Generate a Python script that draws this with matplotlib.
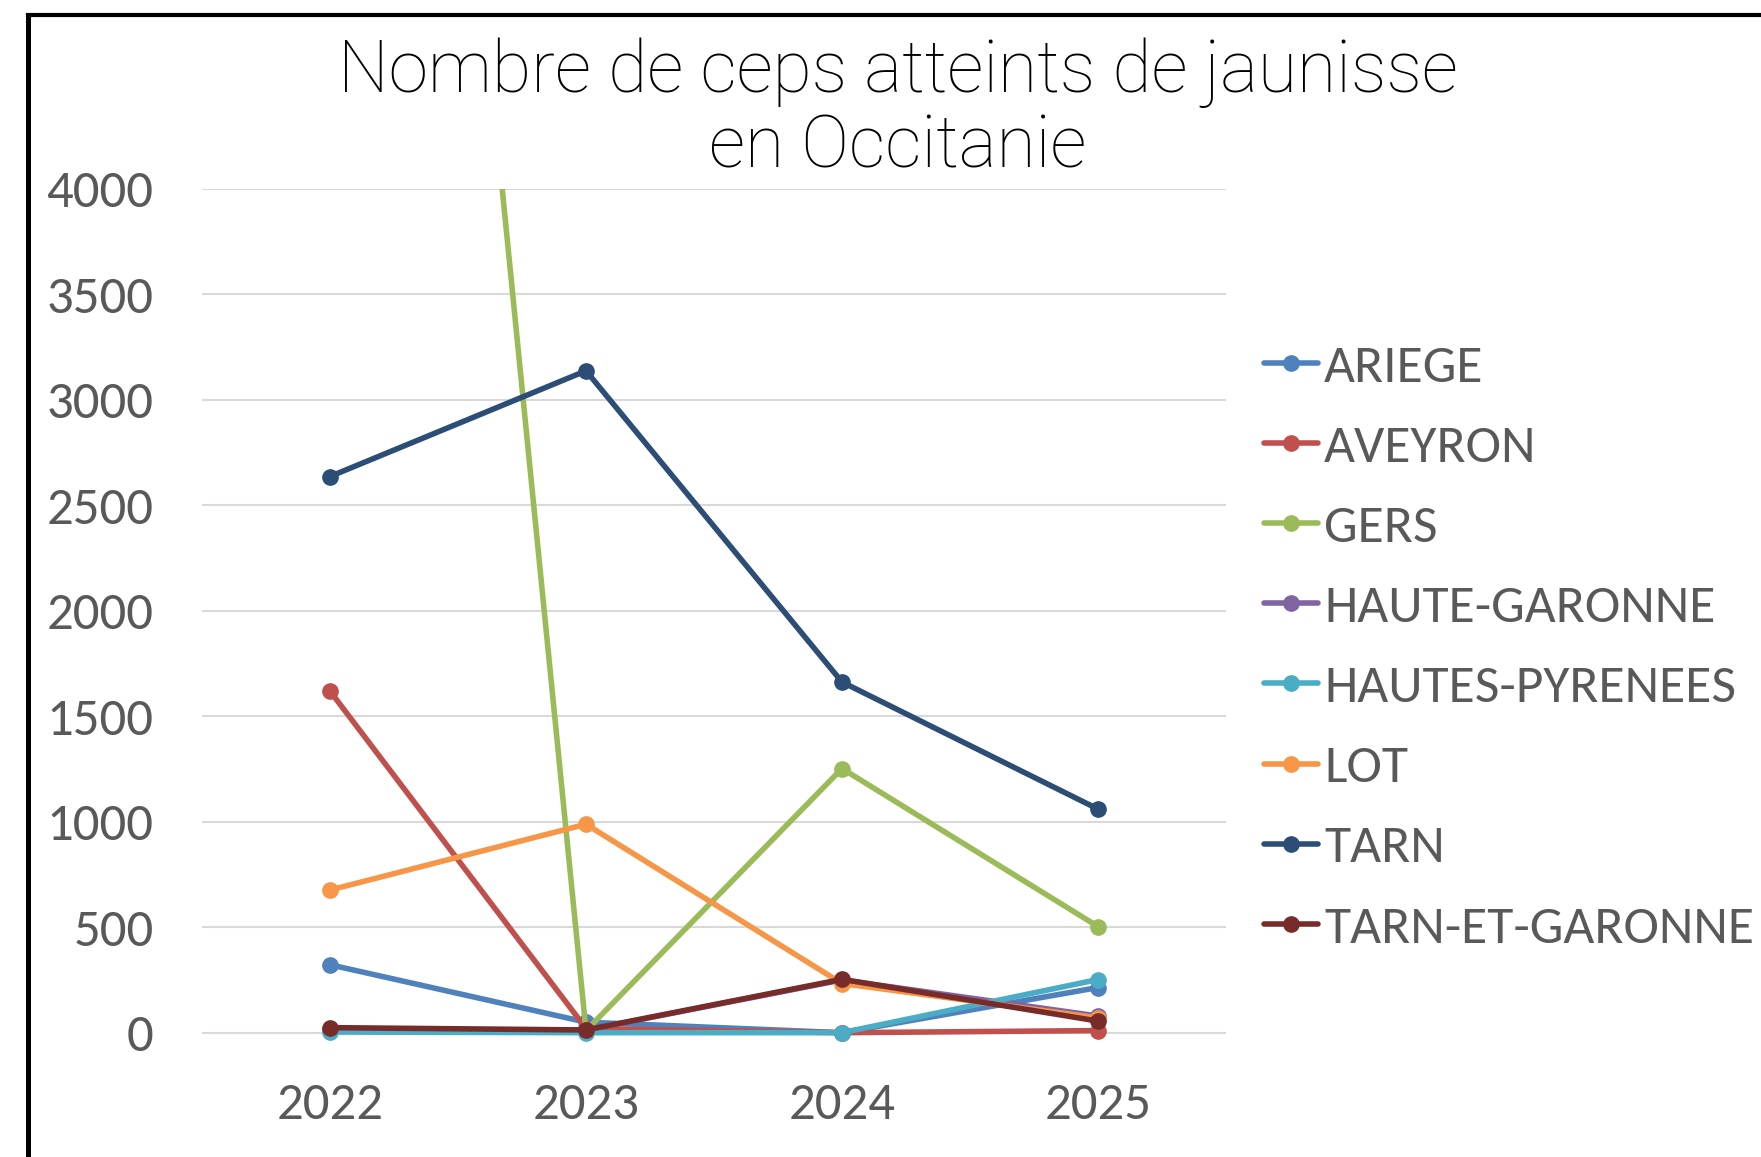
import numpy as np
import matplotlib
matplotlib.use("Agg")
import matplotlib.pyplot as plt
from matplotlib.lines import Line2D

plt.rcParams['font.family'] = ['Carlito', 'Liberation Sans Narrow', 'Lato', 'DejaVu Sans']

years = ['2022', '2023', '2024', '2025']

ariege = [322, 50, 0, 214]
aveyron = [1619, 20, 0, 10]
gers = [12200, 10, 1252, 503]
haute_garonne = [12, 12, 250, 79]
hautes_pyrenees = [3, 0, 0, 252]
lot = [676, 988, 233, 70]
tarn = [2636, 3137, 1662, 1060]
tarn_et_garonne = [24, 13, 253, 55]

series = [
    ('ARIEGE', ariege, '#4F81BD'),
    ('AVEYRON', aveyron, '#C0504D'),
    ('GERS', gers, '#9BBB59'),
    ('HAUTE-GARONNE', haute_garonne, '#8064A2'),
    ('HAUTES-PYRENEES', hautes_pyrenees, '#4BACC6'),
    ('LOT', lot, '#F79646'),
    ('TARN', tarn, '#2C4D75'),
    ('TARN-ET-GARONNE', tarn_et_garonne, '#772C2A'),
]

fig = plt.figure(figsize=(17.61, 11.57), dpi=100)
ax = fig.add_axes([0.1147, 0.0892, 0.5815, 0.7477])

x = np.arange(len(years))
for name, vals, col in series:
    ax.plot(x, vals, color=col, linewidth=4.0, marker='o', markersize=11,
            label=name, solid_capstyle='round')

ax.set_xlim(-0.5, 3.5)
ax.set_ylim(-100, 4000)
ax.set_yticks(np.arange(0, 4001, 500))
ax.set_xticks(x)
ax.set_xticklabels(years)
ax.grid(axis='y', color='#D9D9D9', linewidth=1.5)
ax.set_axisbelow(True)
for s in ax.spines.values():
    s.set_visible(False)
ax.tick_params(length=0, labelsize=38, labelcolor='#595959')
ax.tick_params(axis='y', pad=35)
ax.tick_params(axis='x', pad=20)

fig.text(0.51, 0.968, 'Nombre de ceps atteints de jaunisse\nen Occitanie',
         ha='center', va='top', fontsize=51.5, color='black',
         family=['Roboto', 'Lato', 'DejaVu Sans'], fontweight='light', linespacing=1.1)

leg = fig.legend(loc='center left', bbox_to_anchor=(0.718, 0.440), frameon=False,
                 fontsize=38.5, labelcolor='#595959', handlelength=1.0,
                 handletextpad=0.12, labelspacing=0.63, borderpad=0, borderaxespad=0)

# frame of the original chart area (cropped on right and bottom)
fig.add_artist(Line2D([27.5 / 1761, 27.5 / 1761], [0, 1 - 15.3 / 1157],
                      transform=fig.transFigure, color='black', linewidth=3.6))
fig.add_artist(Line2D([27.5 / 1761, 1], [1 - 15.3 / 1157, 1 - 15.3 / 1157],
                      transform=fig.transFigure, color='black', linewidth=3.0,
                      solid_capstyle='projecting'))

fig.savefig('out.png', dpi=100)
